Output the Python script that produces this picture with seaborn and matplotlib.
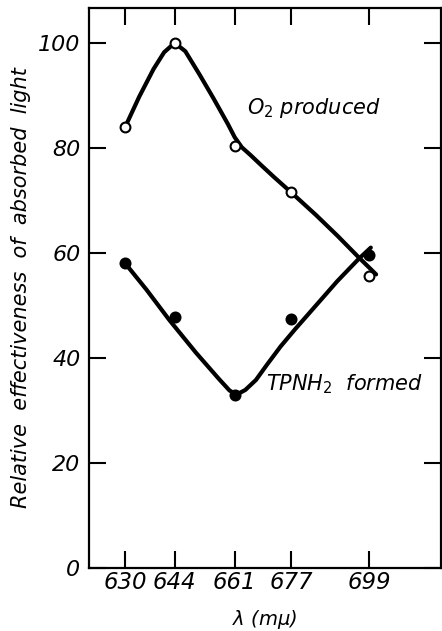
import pandas as pd
import matplotlib
matplotlib.use("Agg")
import matplotlib.pyplot as plt
import seaborn as sns

# Estilo simples, sem grade
sns.set_theme(style="ticks")
plt.rcParams["font.family"] = ["DejaVu Sans"]
plt.rcParams["text.color"] = "black"
plt.rcParams["axes.labelcolor"] = "black"

# Pontos medidos
wavelengths = [630, 644, 661, 677, 699]
o2_values = [84.0, 100.0, 80.3, 71.5, 55.6]
tpnh2_values = [58.0, 47.8, 32.9, 47.5, 59.5]

# Curvas desenhadas à mão
o2_curve_x = [630, 634, 638, 641, 644, 647, 651, 655, 659, 661, 663, 665.5, 668, 672, 677, 684, 690, 696, 701]
o2_curve_y = [84.0, 89.8, 95.0, 98.2, 100.0, 98.4, 94.0, 89.4, 84.6, 82.0, 80.1, 78.6, 77.0, 74.5, 71.5,
              67.2, 63.3, 59.2, 55.9]
tpnh2_curve_x = [630, 636, 642.5, 650, 656.5, 659.5, 661.5, 664, 667, 670, 674, 678, 684, 690, 696, 699.5]
tpnh2_curve_y = [58.0, 53.0, 47.2, 41.0, 36.0, 33.8, 33.0, 33.9, 35.8, 38.6, 42.2, 45.4, 50.0, 54.6,
                 58.8, 61.0]

y_ticks = [0, 20, 40, 60, 80, 100]


def main():
    points = pd.DataFrame({"wl": wavelengths, "o2": o2_values, "tpnh2": tpnh2_values})
    o2_curve = pd.DataFrame({"wl": o2_curve_x, "val": o2_curve_y})
    tpnh2_curve = pd.DataFrame({"wl": tpnh2_curve_x, "val": tpnh2_curve_y})

    fig = plt.figure(figsize=(4.42, 6.31), dpi=100)
    ax = fig.add_axes([0.201, 0.1, 0.797, 0.887])

    sns.lineplot(data=o2_curve, x="wl", y="val", sort=False, color="black", lw=3, ax=ax)
    sns.lineplot(data=tpnh2_curve, x="wl", y="val", sort=False, color="black", lw=3, ax=ax)
    sns.scatterplot(data=points, x="wl", y="tpnh2", color="black", s=75, edgecolor="black",
                    linewidth=0, zorder=5, ax=ax)
    sns.scatterplot(data=points, x="wl", y="o2", facecolor="white", edgecolor="black",
                    s=50, linewidth=1.5, zorder=6, ax=ax)

    ax.set_xlim(619.7, 719.4)
    ax.set_ylim(0, 106.6)
    ax.set_xticks(wavelengths)
    ax.set_xticklabels([str(w) for w in wavelengths], fontstyle="italic", fontsize=16.5)
    ax.set_yticks(y_ticks)
    ax.set_yticklabels([str(v) for v in y_ticks], fontstyle="italic", fontsize=16)
    ax.tick_params(direction="in", length=12, width=1.5, top=True, right=True,
                   color="black", labelcolor="black")
    ax.tick_params(axis="x", pad=2)
    ax.tick_params(axis="y", pad=6)
    for side in ax.spines.values():
        side.set_linewidth(1.6)
        side.set_color("black")

    ax.set_xlabel(r"$\lambda$ ($m\mu$)", fontstyle="italic", fontsize=14, labelpad=10)
    ax.set_ylabel("Relative  effectiveness  of  absorbed  light", fontstyle="italic",
                  fontsize=15, labelpad=5)

    ax.text(664.4, 87.6, r"$O_2$ produced", fontstyle="italic", fontsize=15, ha="left", va="center")
    ax.text(669.8, 34.9, r"$TPNH_2$  formed", fontstyle="italic", fontsize=15, ha="left", va="center")

    fig.savefig("out.png", dpi=100, facecolor="white")


if __name__ == "__main__":
    main()
